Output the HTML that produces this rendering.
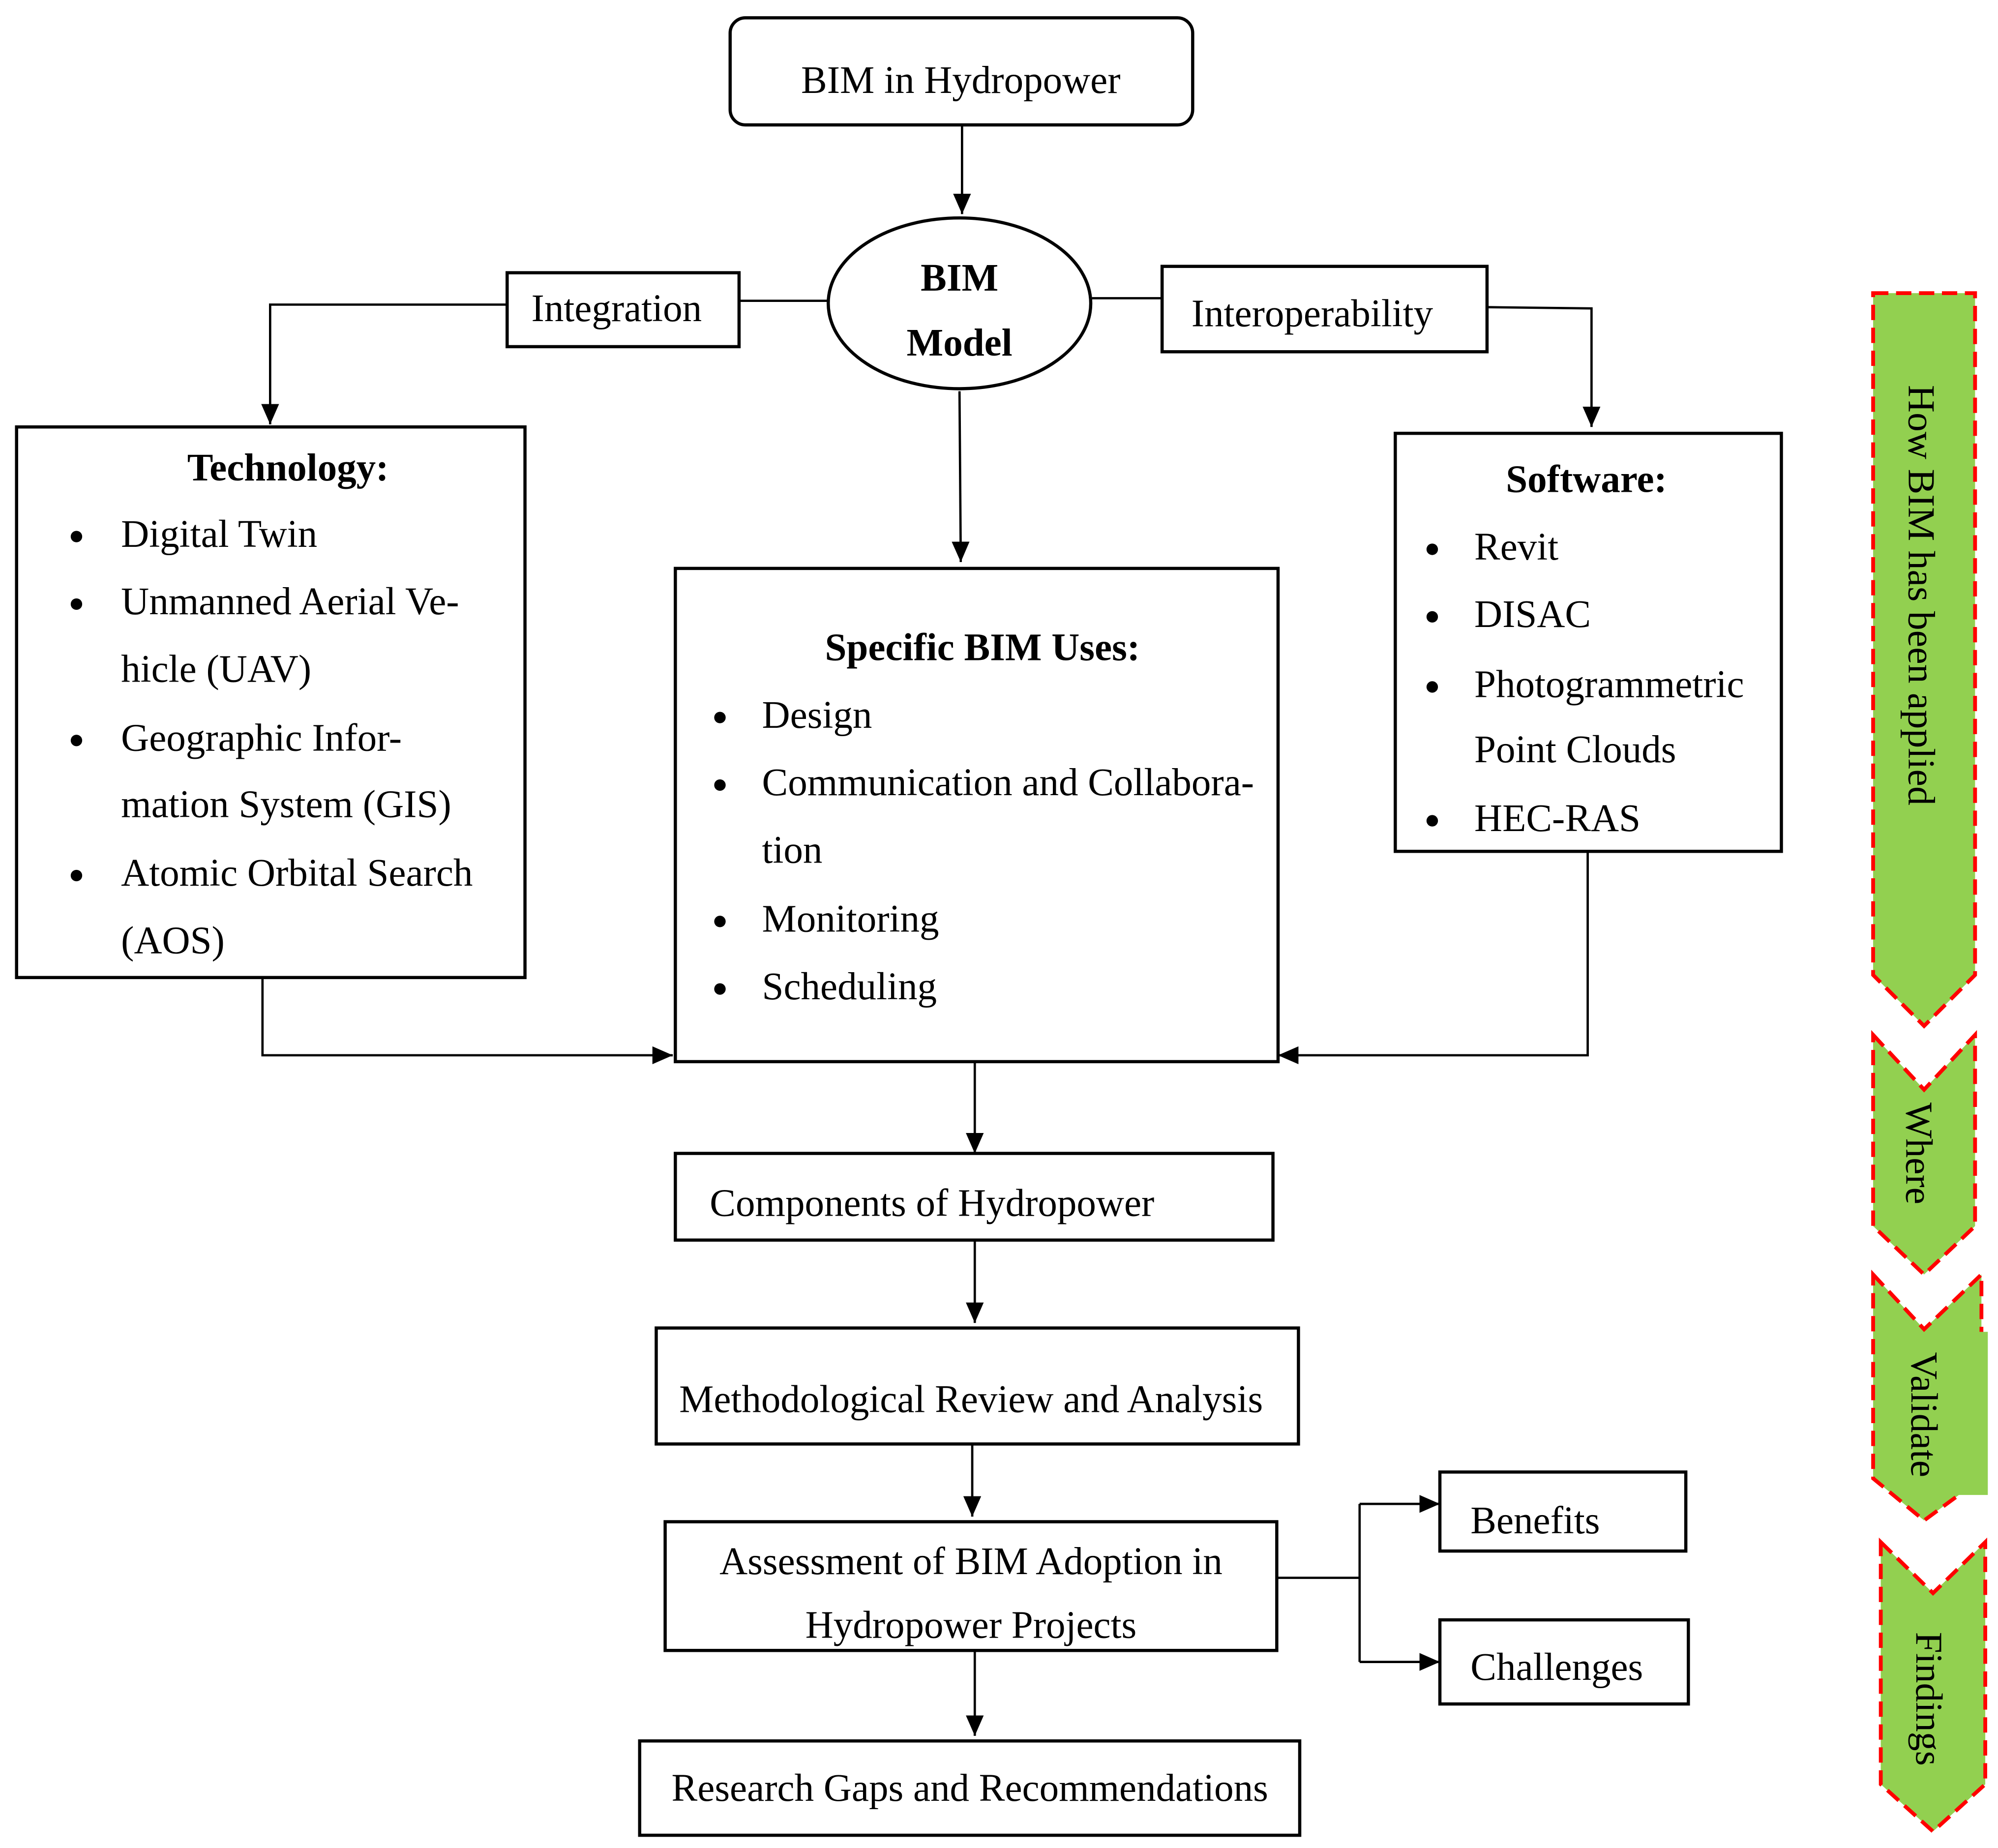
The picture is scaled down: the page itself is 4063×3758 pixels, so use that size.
<!DOCTYPE html>
<html><head><meta charset="utf-8"><style>
html,body{margin:0;padding:0;background:#fff;}
svg{display:block;}
text{font-family:"Liberation Serif",serif;font-size:30.5px;fill:#000;}
.b{font-weight:bold;}
.v{font-size:30px;}
</style></head><body>
<svg width="4063" height="3758" viewBox="0 0 1568 1450" preserveAspectRatio="none" xmlns="http://www.w3.org/2000/svg">
<defs>
<marker id="ar" viewBox="0 0 16 14" markerWidth="16" markerHeight="14" refX="16" refY="7" orient="auto" markerUnits="userSpaceOnUse"><path d="M0,0 L16,7 L0,14 Z" fill="#000"/></marker></defs>
<g fill="none" stroke="#000" stroke-width="2.5">
<rect x="573" y="14" width="363" height="84" rx="12"/>
<ellipse cx="753" cy="238" rx="103" ry="67"/>
<rect x="398" y="214" width="182" height="58"/>
<rect x="912" y="209" width="255" height="67"/>
<rect x="13" y="335" width="399" height="432"/>
<rect x="530" y="446" width="473" height="387"/>
<rect x="1095" y="340" width="303" height="328"/>
<rect x="530" y="905" width="469" height="68"/>
<rect x="515" y="1042" width="504" height="91"/>
<rect x="522" y="1194" width="480" height="101"/>
<rect x="1130" y="1155" width="193" height="62"/>
<rect x="1130" y="1271" width="195" height="66"/>
<rect x="502" y="1366" width="518" height="74"/>
</g>
<g fill="none" stroke="#000" stroke-width="1.8">
<path d="M755,98 V168" marker-end="url(#ar)"/>
<path d="M580,236 H650"/>
<path d="M398,239 H212 V333" marker-end="url(#ar)"/>
<path d="M857,234 H912"/>
<path d="M1167,241 L1249,242 V335" marker-end="url(#ar)"/>
<path d="M753,307 L754,441" marker-end="url(#ar)"/>
<path d="M206,767 V828 H528" marker-end="url(#ar)"/>
<path d="M1246,668 V828 H1003" marker-end="url(#ar)"/>
<path d="M765,833 V905" marker-end="url(#ar)"/>
<path d="M765,973 V1038" marker-end="url(#ar)"/>
<path d="M763,1133 V1190" marker-end="url(#ar)"/>
<path d="M1002,1238 H1067"/>
<path d="M1067,1180 V1304"/>
<path d="M1067,1180 H1130" marker-end="url(#ar)"/>
<path d="M1067,1304 H1130" marker-end="url(#ar)"/>
<path d="M765,1295 V1362" marker-end="url(#ar)"/>
</g>
<g fill="#000">
<circle cx="60" cy="421" r="4.5"/><circle cx="60" cy="474" r="4.5"/><circle cx="60" cy="581" r="4.5"/><circle cx="60" cy="687" r="4.5"/>
<circle cx="565" cy="563" r="4.5"/><circle cx="565" cy="616" r="4.5"/><circle cx="565" cy="723" r="4.5"/><circle cx="565" cy="776" r="4.5"/>
<circle cx="1124" cy="431" r="4.5"/><circle cx="1124" cy="484" r="4.5"/><circle cx="1124" cy="539" r="4.5"/><circle cx="1124" cy="644" r="4.5"/>
</g>
<text x="754" y="73" text-anchor="middle">BIM in Hydropower</text>
<text x="753" y="228" text-anchor="middle" class="b">BIM</text>
<text x="753" y="279" text-anchor="middle" class="b">Model</text>
<text x="417" y="252">Integration</text>
<text x="935" y="256">Interoperability</text>
<text x="226" y="377" text-anchor="middle" class="b">Technology:</text>
<text x="95" y="429">Digital Twin</text>
<text x="95" y="482">Unmanned Aerial Ve-</text>
<text x="95" y="535">hicle (UAV)</text>
<text x="95" y="589">Geographic Infor-</text>
<text x="95" y="641">mation System (GIS)</text>
<text x="95" y="695">Atomic Orbital Search</text>
<text x="95" y="748">(AOS)</text>
<text x="771" y="518" text-anchor="middle" class="b">Specific BIM Uses:</text>
<text x="598" y="571">Design</text>
<text x="598" y="624">Communication and Collabora-</text>
<text x="598" y="677">tion</text>
<text x="598" y="731">Monitoring</text>
<text x="598" y="784">Scheduling</text>
<text x="1245" y="386" text-anchor="middle" class="b">Software:</text>
<text x="1157" y="439">Revit</text>
<text x="1157" y="492">DISAC</text>
<text x="1157" y="547">Photogrammetric</text>
<text x="1157" y="598">Point Clouds</text>
<text x="1157" y="652">HEC-RAS</text>
<text x="557" y="954">Components of Hydropower</text>
<text x="533" y="1108">Methodological Review and Analysis</text>
<text x="762" y="1235" text-anchor="middle">Assessment of BIM Adoption in</text>
<text x="762" y="1285" text-anchor="middle">Hydropower Projects</text>
<text x="1154" y="1203">Benefits</text>
<text x="1154" y="1318">Challenges</text>
<text x="527" y="1413">Research Gaps and Recommendations</text>
<g fill="#92d050" stroke="#f00" stroke-width="3" stroke-dasharray="12,6">
<path d="M1470,230 H1550 V765 L1510,805 L1470,765 Z"/>
<path d="M1470,812 L1510,855 L1550,812 V962 L1510,1000 L1470,962 Z"/>
<path d="M1470,1000 L1510,1043 L1555,1000 V1160 L1510,1193 L1470,1160 Z"/>
<path d="M1476,1210 L1517,1250 L1558,1210 V1400 L1517,1437 L1476,1400 Z"/>
</g>
<rect x="1536" y="1045" width="24" height="128" fill="#92d050"/>
<text class="v" transform="translate(1498,467) rotate(90)" text-anchor="middle">How BIM has been applied</text>
<text class="v" transform="translate(1496,905) rotate(90)" text-anchor="middle">Where</text>
<text class="v" transform="translate(1500,1110) rotate(90)" text-anchor="middle">Validate</text>
<text class="v" transform="translate(1504,1333) rotate(90)" text-anchor="middle">Findings</text>
</svg>
</body></html>
